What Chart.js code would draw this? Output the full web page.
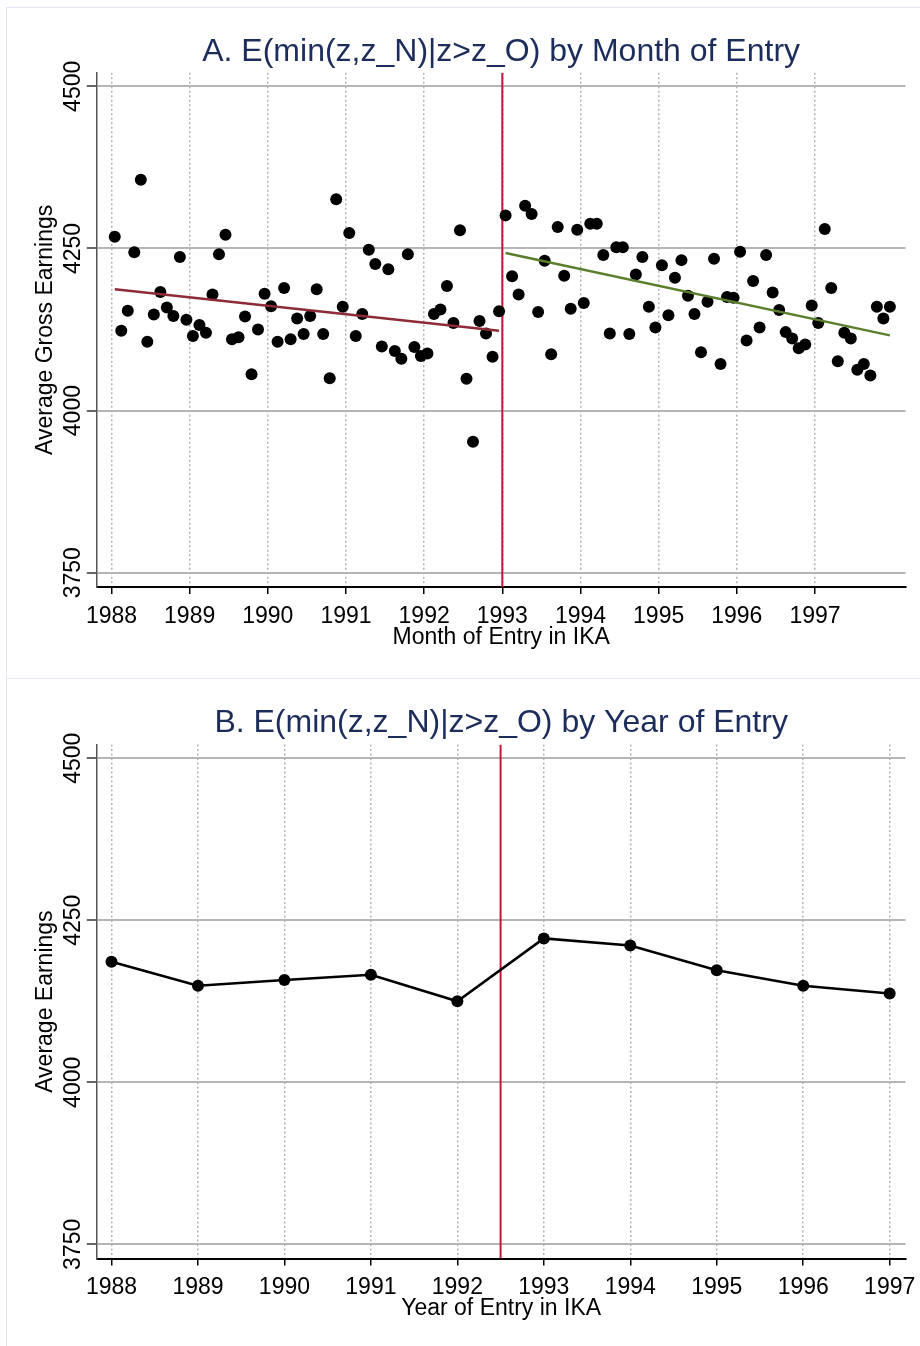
<!DOCTYPE html>
<html><head><meta charset="utf-8">
<script src="https://cdn.jsdelivr.net/npm/chart.js@4.4.1/dist/chart.umd.min.js"></script>
<style>
html,body{margin:0;padding:0;background:#fff;}
body{width:920px;height:1346px;position:relative;overflow:hidden;}
.frame{position:absolute;border:1.5px solid #e2e7f0;box-sizing:border-box;}
canvas{position:absolute;left:0;}
</style></head><body>
<div class="frame" style="left:6px;top:7px;width:940px;height:672px;"></div>
<div class="frame" style="left:6px;top:678px;width:940px;height:700px;"></div>
<canvas id="c1" width="920" height="678" style="top:0"></canvas>
<canvas id="c2" width="920" height="668" style="top:678px"></canvas>
<script>
// ---------- DATA ----------
const firstYear = 1988;
const monthlyEarnings = [
  4268,4123,4154,4244,4356,4106,4148,4183,4159,4146,4237,4140,
  4115,4132,4120,4179,4241,4271,4110,4113,4145,4056,4125,4180,
  4161,4106,4189,4110,4142,4118,4146,4187,4118,4050,4326,4160,
  4274,4115,4149,4248,4226,4099,4218,4092,4080,4241,4098,4084,
  4088,4149,4156,4192,4135,4278,4049,3952,4138,4119,4083,4153,
  4301,4207,4179,4316,4303,4152,4231,4087,4283,4208,4157,4279,
  4166,4288,4288,4240,4119,4252,4252,4118,4210,4237,4160,4128,
  4224,4147,4205,4232,4177,4149,4090,4168,4234,4072,4175,4174,
  4245,4108,4200,4128,4240,4182,4155,4121,4111,4096,4102,4162,
  4135,4280,4189,4076,4120,4111,4063,4072,4054,4160,4142,4160
];
const preFitX = [1988.042, 1992.958];
const preFitY = [4187, 4123];
const postFitX = [1993.042, 1997.958];
const postFitY = [4243, 4116];
const reformMonth = 1993;

const years = [1988,1989,1990,1991,1992,1993,1994,1995,1996,1997];
const yearlyEarnings = [4186,4149,4158,4166,4125,4222,4211,4173,4149,4137];
const reformYear = 1992.5;

const yTicks = [3750,4000,4250,4500];
const xTicks = [1988,1989,1990,1991,1992,1993,1994,1995,1996,1997];
const yRange = [3728, 4521];
const xRangeTop = [1987.812, 1998.158];
const xRangeBottom = [1987.83, 1997.183];

const titleA = 'A. E(min(z,z_N)|z>z_O) by Month of Entry';
const titleB = 'B. E(min(z,z_N)|z>z_O) by Year of Entry';
const xTitleA = 'Month of Entry in IKA';
const xTitleB = 'Year of Entry in IKA';
const yTitleA = 'Average Gross Earnings';
const yTitleB = 'Average Earnings';

// ---------- build ----------
const FONT = '"Liberation Sans", Arial, Helvetica, sans-serif';
const monthlyPts = monthlyEarnings.map((v,i)=>({x: firstYear + (i+0.5)/12, y: v}));
const yearlyPts = years.map((yr,i)=>({x: yr, y: yearlyEarnings[i]}));
const pts = (xs, ys) => xs.map((x,i)=>({x, y: ys[i]}));

const textPlugin = {
  id: 'texts',
  afterDraw(chart, args, o) {
    const {ctx, chartArea: ca, scales} = chart;
    ctx.save();
    ctx.textAlign = 'center';
    ctx.textBaseline = 'alphabetic';
    ctx.fillStyle = o.titleColor;
    ctx.font = o.titleSize + 'px ' + FONT;
    ctx.fillText(o.title, (ca.left+ca.right)/2, o.titleBase);
    ctx.fillStyle = '#000';
    ctx.font = '23px ' + FONT;
    for (const t of scales.x.ticks) {
      ctx.fillText(String(t.value), scales.x.getPixelForValue(t.value), ca.bottom + o.xTickBase);
    }
    ctx.fillText(o.xTitle, (ca.left+ca.right)/2, ca.bottom + o.xTitleBase);
    for (const t of scales.y.ticks) {
      ctx.save();
      ctx.translate(o.yTickBase, scales.y.getPixelForValue(t.value));
      ctx.rotate(-Math.PI/2);
      ctx.fillText(String(t.value), 0, 0);
      ctx.restore();
    }
    ctx.save();
    ctx.translate(o.yTitleBase, (ca.top+ca.bottom)/2);
    ctx.rotate(-Math.PI/2);
    ctx.fillText(o.yTitle, 0, 0);
    ctx.restore();
    ctx.restore();
  }
};

function scalesFor(xr, xh, yw) {
  return {
    x: {
      type: 'linear', min: xr[0], max: xr[1],
      afterBuildTicks: s => { s.ticks = xTicks.map(v=>({value:v})); },
      afterFit: s => { s.height = xh; },
      ticks: {display: false},
      grid: {color: '#b3b3b3', lineWidth: 1.5, tickLength: 7, tickColor: '#000', tickWidth: 1.5},
      border: {color: '#000', width: 2, dash: [2, 2.5]}
    },
    y: {
      type: 'linear', min: yRange[0], max: yRange[1],
      afterBuildTicks: s => { s.ticks = yTicks.map(v=>({value:v})); },
      afterFit: s => { s.width = yw; },
      ticks: {display: false},
      grid: {color: '#b5b5b5', lineWidth: 2, tickLength: 10, tickColor: '#333', tickWidth: 1.5},
      border: {color: '#555', width: 1.5}
    }
  };
}

new Chart(document.getElementById('c1'), {
  type: 'scatter',
  data: { datasets: [
    {type: 'line', data: pts([reformMonth, reformMonth], yRange), borderColor: '#c8143c', borderWidth: 2, pointRadius: 0, order: 3},
    {data: monthlyPts, backgroundColor: '#000', borderWidth: 0, pointRadius: 6, order: 2},
    {type: 'line', data: pts(preFitX, preFitY), borderColor: '#8e2b36', borderWidth: 2.5, pointRadius: 0, order: 1},
    {type: 'line', data: pts(postFitX, postFitY), borderColor: '#5a7f2c', borderWidth: 2.5, pointRadius: 0, order: 1}
  ]},
  options: {
    responsive: false, animation: false, devicePixelRatio: 1,
    layout: {padding: {top: 72.7, right: 14.5, left: 0, bottom: 0}},
    plugins: {legend: {display: false}, tooltip: {enabled: false},
      texts: {title: titleA, titleColor: '#1c2d5c', titleSize: 32, titleBase: 61,
              xTitle: xTitleA, yTitle: yTitleA, xTickBase: 36.3, xTitleBase: 57, yTickBase: 80, yTitleBase: 52}},
    scales: scalesFor(xRangeTop, 91, 96.8)
  },
  plugins: [textPlugin]
});

new Chart(document.getElementById('c2'), {
  type: 'scatter',
  data: { datasets: [
    {type: 'line', data: pts([reformYear, reformYear], yRange), borderColor: '#c8143c', borderWidth: 2, pointRadius: 0, order: 3},
    {data: yearlyPts, showLine: true, borderColor: '#000', borderWidth: 2.5, backgroundColor: '#000', pointBorderWidth: 0, pointRadius: 6, order: 1}
  ]},
  options: {
    responsive: false, animation: false, devicePixelRatio: 1,
    layout: {padding: {top: 66.6, right: 14.5, left: 0, bottom: 0}},
    plugins: {legend: {display: false}, tooltip: {enabled: false},
      texts: {title: titleB, titleColor: '#1c2d5c', titleSize: 32, titleBase: 54,
              xTitle: xTitleB, yTitle: yTitleB, xTickBase: 35, xTitleBase: 56, yTickBase: 80, yTitleBase: 52}},
    scales: scalesFor(xRangeBottom, 668 - 580.6, 96.8)
  },
  plugins: [textPlugin]
});
</script></body></html>
